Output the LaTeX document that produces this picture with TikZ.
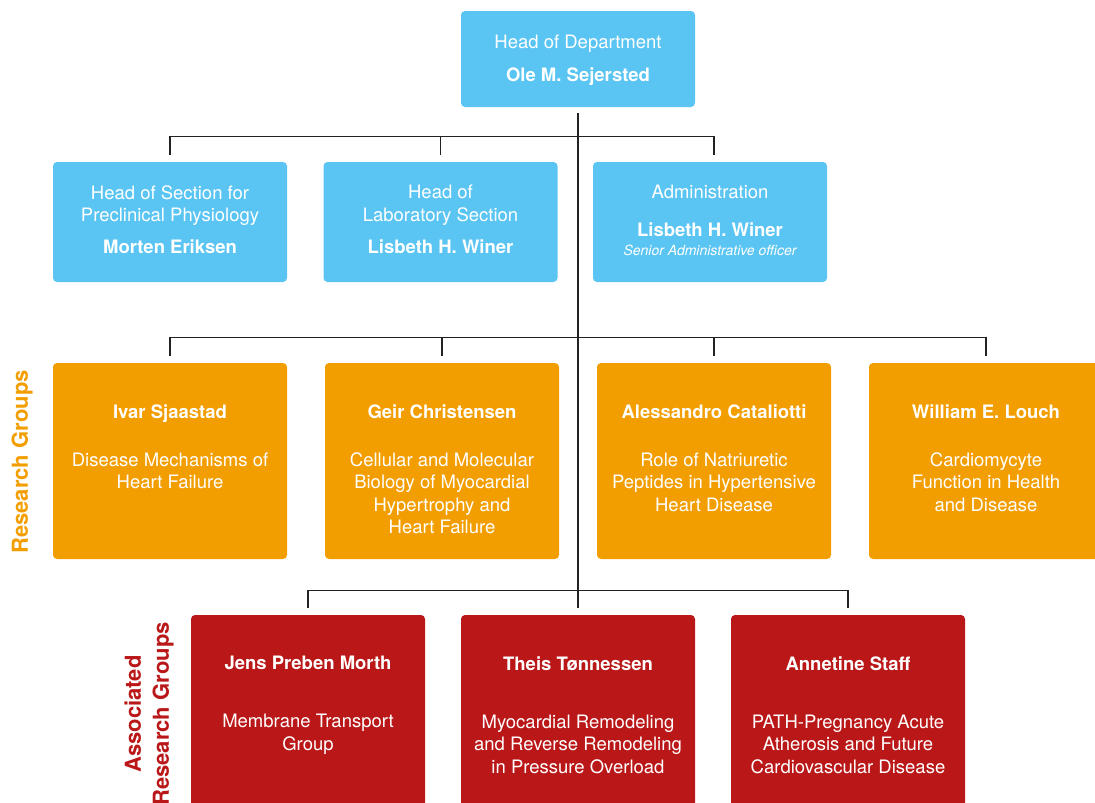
\documentclass[tikz,border=0pt]{standalone}
\usepackage{fontspec}
\setmainfont{TeX Gyre Heros}
\usetikzlibrary{calc}
\definecolor{cblue}{HTML}{5AC5F2}
\definecolor{corange}{HTML}{F39E00}
\definecolor{cred}{HTML}{BA1818}
\definecolor{cline}{HTML}{222222}
\begin{document}
\begin{tikzpicture}[x=1pt,y=-1pt,
  box/.style={rectangle,rounded corners=4pt,minimum width=234pt,inner sep=0pt,draw=none},
  bluebox/.style={box,fill=cblue},
  orangebox/.style={box,fill=corange,minimum height=196pt},
  redbox/.style={box,fill=cred,minimum height=215pt},
  txt/.style={text=white,align=center,inner sep=0pt,anchor=north,font=\fontsize{18.5}{22.5}\selectfont},
  conn/.style={draw=cline,line width=1.2pt}
]
\useasboundingbox (0,0) rectangle (1095,803);
\clip (0,0) rectangle (1095,803);

% top
\node[bluebox,minimum height=96pt] (top) at (578,59) {};
\node[txt] (topt) at (578,35.2) {Head of Department\\[10.5pt]\textbf{Ole M. Sejersted}};

% row 2
\node[bluebox,minimum height=120pt] (s1) at (170,222) {};
\node[bluebox,minimum height=120pt] (s2) at (440.5,222) {};
\node[bluebox,minimum height=120pt] (s3) at (710,222) {};
\node[txt] (s1t) at (170,185.2) {Head of Section for\\Preclinical Physiology\\[9.5pt]\textbf{Morten Eriksen}};
\node[txt] (s2t) at (440.5,185.2) {Head of\\Laboratory Section\\[9.5pt]\textbf{Lisbeth H. Winer}};
\node[txt] (s3t) at (710,185.2) {Administration\\[15.5pt]\textbf{Lisbeth H. Winer}\\[-4.2pt]{\fontsize{14}{16}\selectfont\itshape Senior Administrative officer}};

% row 3
\node[orangebox] (r1) at (170,461) {};
\node[orangebox] (r2) at (442,461) {};
\node[orangebox] (r3) at (714,461) {};
\node[orangebox] (r4) at (986,461) {};
\node[txt] (r1t) at (170,404.2) {\textbf{Ivar Sjaastad}\\[25.5pt]Disease Mechanisms of\\Heart Failure};
\node[txt] (r2t) at (442,404.2) {\textbf{Geir Christensen}\\[25.5pt]Cellular and Molecular\\Biology of Myocardial\\Hypertrophy and\\Heart Failure};
\node[txt] (r3t) at (714,404.2) {\textbf{Alessandro Cataliotti}\\[25.5pt]Role of Natriuretic\\Peptides in Hypertensive\\Heart Disease};
\node[txt] (r4t) at (986,404.2) {\textbf{William E. Louch}\\[25.5pt]Cardiomycyte\\Function in Health\\and Disease};

% row 4
\node[redbox] (g1) at (308,722.5) {};
\node[redbox] (g2) at (578,722.5) {};
\node[redbox] (g3) at (848,722.5) {};
\node[txt] (g1t) at (308,656.2) {\textbf{Jens Preben Morth}\\[35.5pt]Membrane Transport\\Group};
\node[txt] (g2t) at (578,656.2) {\textbf{Theis Tønnessen}\\[35.5pt]Myocardial Remodeling\\and Reverse Remodeling\\in Pressure Overload};
\node[txt] (g3t) at (848,656.2) {\textbf{Annetine Staff}\\[35.5pt]PATH-Pregnancy Acute\\Atherosis and Future\\Cardiovascular Disease};

% side labels
\node[rotate=90,inner sep=0pt,text=corange,font=\fontsize{22}{26}\selectfont\bfseries] (lblrg) at (22,462) {Research Groups};
\node[rotate=90,inner sep=0pt,align=center,text=cred,font=\fontsize{22}{28}\selectfont\bfseries] (lblarg) at (149,714) {Associated\\Research Groups};

% connectors
\coordinate (spinetop) at ([yshift=-6pt]top.south);
\coordinate (t1) at ([yshift=7pt]s1.north);
\coordinate (t2) at ([yshift=7pt]s2.north);
\coordinate (t3) at ([xshift=4pt,yshift=7pt]s3.north);
\coordinate (u1) at ([yshift=7pt]r1.north);
\coordinate (u2) at ([yshift=7pt]r2.north);
\coordinate (u3) at ([yshift=7pt]r3.north);
\coordinate (u4) at ([yshift=7pt]r4.north);
\coordinate (v1) at ([yshift=7pt]g1.north);
\coordinate (v2) at ([yshift=7pt]g2.north);
\coordinate (v3) at ([yshift=7pt]g3.north);

\draw[conn] (spinetop) -- (v2);
\draw[conn] (t1) -- ++(0,-18) -| (t3);
\draw[conn] (t2) -- ++(0,-18);
\draw[conn] (u1) -- ++(0,-18) -| (u4);
\draw[conn] (u2) -- ++(0,-18);
\draw[conn] (u3) -- ++(0,-18);
\draw[conn] (v1) -- ++(0,-17) -| (v3);
\end{tikzpicture}
\end{document}
